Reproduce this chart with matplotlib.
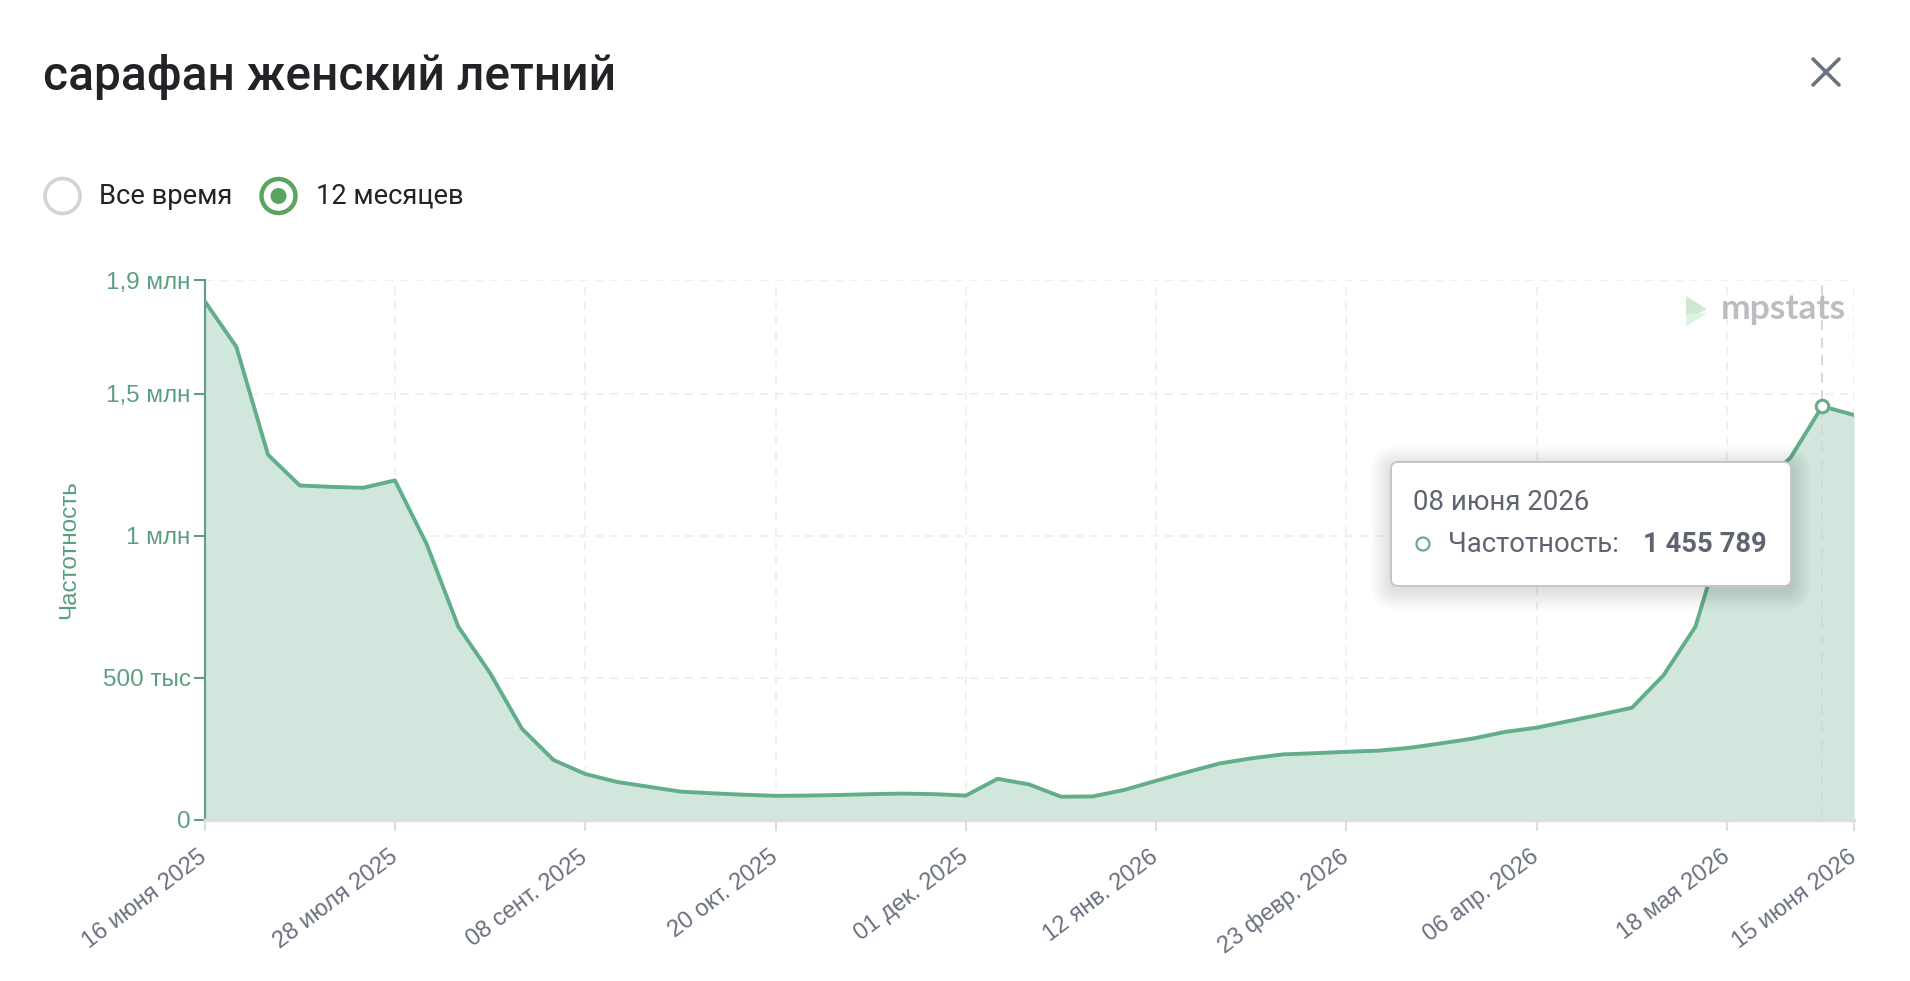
import matplotlib
matplotlib.use("Agg")
import matplotlib.pyplot as plt
from matplotlib.patches import Circle, FancyBboxPatch, Polygon
from matplotlib.lines import Line2D
import numpy as np

W, H = 1910, 981

title_text = "сарафан женский летний"
radio_labels = ["Все время", "12 месяцев"]
y_label = "Частотность"
x_tick_weeks = [0, 6, 12, 18, 24, 30, 36, 42, 48, 52]
x_tick_labels = ["16 июня 2025", "28 июля 2025", "08 сент. 2025", "20 окт. 2025",
                 "01 дек. 2025", "12 янв. 2026", "23 февр. 2026", "06 апр. 2026",
                 "18 мая 2026", "15 июня 2026"]
y_ticks = [0, 500000, 1000000, 1500000, 1900000]
y_tick_labels = ["0", "500 тыс", "1 млн", "1,5 млн", "1,9 млн"]

# weekly values, 16 June 2025 .. 15 June 2026
values = [1826000, 1665000, 1285000, 1177000, 1172000, 1169000, 1195000, 971000,
          680000, 517000, 322000, 211000, 162000, 134000, 117000, 100000,
          94000, 89000, 85000, 86000, 88000, 91000, 93000, 91000,
          86000, 145000, 125000, 82000, 83000, 106000, 138000, 169000,
          199000, 217000, 231000, 235000, 240000, 244000, 254000, 270000,
          287000, 310000, 325000, 348000, 371000, 395000, 510000, 680000,
          1050000, 1170000, 1275000, 1455789, 1425000]

tooltip_index = 51
tooltip_date = "08 июня 2026"
tooltip_series = "Частотность:"
logo_text = "mpstats"

GREEN_TXT = "#5b9f80"
LINE_C = "#62ae8a"
FILL_C = "#d1e6dc"
GREY_TXT = "#6b7080"

fig = plt.figure(figsize=(W / 100, H / 100), dpi=100)
fig.patch.set_facecolor("white")

# ---- main chart ----
L, R, T, B = 204.6, 1854.0, 280.0, 820.0
ax = fig.add_axes([L / W, 1 - B / H, (R - L) / W, (B - T) / H])
x = np.arange(len(values))
ax.set_xlim(0, len(values) - 1)
ax.set_ylim(0, 1900000)
ax.fill_between(x, values, 0, color=FILL_C, lw=0, zorder=1)
ax.plot(x, values, color=LINE_C, lw=2.8, solid_joinstyle="round", zorder=3)

for s in ["top", "right"]:
    ax.spines[s].set_visible(False)
ax.spines["left"].set_color(GREEN_TXT)
ax.spines["left"].set_linewidth(1.5)
ax.spines["bottom"].set_color("#dcdde2")
ax.spines["bottom"].set_linewidth(2.5)

ax.set_yticks(y_ticks, y_tick_labels, fontfamily="Liberation Sans", fontsize=17.5,
              color=GREEN_TXT)
ax.tick_params(axis="y", length=8, width=1.5, color=GREEN_TXT, pad=2)
ax.set_xticks(x_tick_weeks)
ax.set_xticklabels(x_tick_labels, rotation=37, ha="right", va="center",
                   rotation_mode="anchor", fontfamily="Liberation Sans",
                   fontsize=17, color=GREY_TXT)
ax.tick_params(axis="x", length=8, width=1.5, color="#dcdde2", pad=17)

ax.grid(True, ls=(0, (5, 4)), color="#eeeeee", lw=1.2, zorder=0)
ax.set_axisbelow(True)
ax.set_ylabel(y_label, fontfamily="Liberation Sans", fontsize=17.5, color=GREEN_TXT,
              labelpad=16)

# crosshair and hovered point
ax.axvline(tooltip_index, ls=(0, (5, 4)), color="#d6d7dd", lw=1.4, zorder=2)
ax.plot([tooltip_index], [values[tooltip_index]], "o", mfc="white", mec=LINE_C,
        ms=9, mew=2.2, zorder=4)

# ---- overlay in pixel coordinates ----
ov = fig.add_axes([0, 0, 1, 1], zorder=10)
ov.set_xlim(0, W)
ov.set_ylim(H, 0)
ov.axis("off")
ov.patch.set_alpha(0)

renderer = fig.canvas.get_renderer()


def fit(t, width):
    bb = t.get_window_extent(renderer)
    t.set_fontsize(t.get_fontsize() * width / bb.width)
    return t


# title
t = ov.text(42.6, 90, title_text, fontfamily="Roboto", fontweight="medium",
            fontsize=28, color="#222327", va="baseline", ha="left")
fit(t, 572)

# close button
for (x0, y0, x1, y1) in [(1813, 59, 1839, 85), (1813, 85, 1839, 59)]:
    ov.add_line(Line2D([x0, x1], [y0, y1], color="#6b7280", lw=2.6,
                       solid_capstyle="round"))

# radio buttons
ov.add_patch(Circle((62.5, 196), 17.5, fc="white", ec="#d1d3d8", lw=2.6))
ov.add_patch(Circle((278.5, 196), 17.0, fc="white", ec="#5aa45e", lw=3.2))
ov.add_patch(Circle((278.5, 196), 8.0, fc="#5aa45e", ec="none"))
t = ov.text(99, 204, radio_labels[0], fontfamily="Roboto", fontsize=16,
            color="#222327", va="baseline", ha="left")
fit(t, 134)
t = ov.text(316, 204, radio_labels[1], fontfamily="Roboto", fontsize=16,
            color="#222327", va="baseline", ha="left")
fit(t, 148)

# logo
ov.add_patch(Polygon([(1686, 296), (1707, 309), (1686, 320)], closed=True,
                     fc="#cfe9cf", ec="none"))
ov.add_patch(Polygon([(1686, 314), (1707, 313), (1686, 327)], closed=True,
                     fc="#e2f2e2", ec="none"))
t = ov.text(1721, 319, logo_text, fontfamily="Lato", fontweight="bold", fontsize=20,
            color="#bdbdc1", va="baseline", ha="left")
fit(t, 125)

# tooltip
bx, by, bw, bh = 1391, 462, 400, 124
for i in range(10):
    p = 2 + i * 2
    ov.add_patch(FancyBboxPatch((bx, by + 4), bw, bh,
                                boxstyle=f"round,pad={p},rounding_size={6 + p}",
                                fc="black", ec="none", alpha=0.012))
ov.add_patch(FancyBboxPatch((bx, by), bw, bh, boxstyle="round,pad=0,rounding_size=7",
                            fc="white", ec="#c4c5ca", lw=1.4))
t = ov.text(1412.5, 510.5, tooltip_date, fontfamily="Roboto", fontsize=16,
            color="#5f6470", va="baseline", ha="left")
fit(t, 177)
ov.add_patch(Circle((1423, 544), 6.5, fc="white", ec=LINE_C, lw=1.6))
t = ov.text(1448, 552.5, tooltip_series, fontfamily="Roboto", fontsize=16,
            color="#5f6470", va="baseline", ha="left")
fit(t, 171)
val_str = f"{values[tooltip_index]:,}".replace(",", " ")
t = ov.text(1643, 552.5, val_str, fontfamily="Roboto", fontweight="bold",
            fontsize=16, color="#5f6470", va="baseline", ha="left")
fit(t, 123)

fig.savefig("out.png", dpi=100, facecolor="white")
